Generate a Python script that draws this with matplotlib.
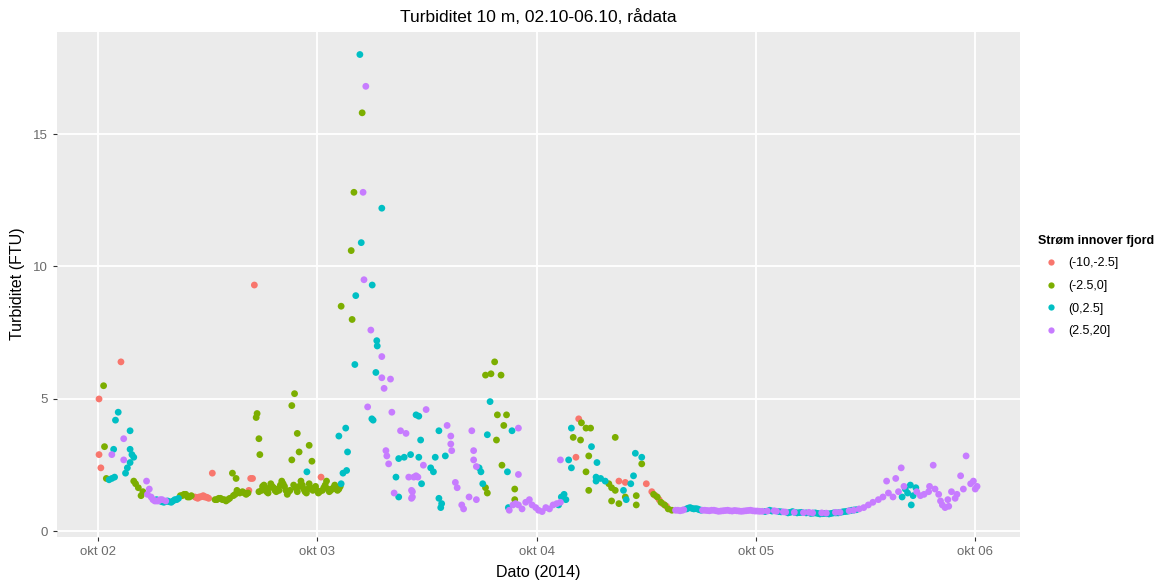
import numpy as np
import matplotlib
matplotlib.use("Agg")
import matplotlib.pyplot as plt
import matplotlib.dates as mdates
from matplotlib.lines import Line2D
from datetime import datetime

plt.rcParams['font.family'] = ['Liberation Sans', 'DejaVu Sans']

# hours after 2014-10-02 00:00 and turbidity (FTU), one pair of lists per current class
red_t = [0.1, 0.1, 0.3, 2.5, 10.6, 10.9, 11.2, 11.5, 11.8, 12.1, 12.5, 16.5, 16.7, 16.9,
         17.1, 24.4, 52.3, 52.6, 57.0, 57.7, 60.0, 60.6, 61.0, 61.4, 61.8, 62.2,
         10.75, 11.05, 11.35, 11.65, 11.95]
red_v = [5.0, 2.9, 2.4, 6.4, 1.3, 1.25, 1.3, 1.35, 1.3, 1.25, 2.2, 1.55, 2.0, 2.0,
         9.3, 2.05, 2.8, 4.25, 1.9, 1.85, 1.8, 1.5, 1.35, 1.2, 1.05, 0.95,
         1.28, 1.3, 1.32, 1.3, 1.28]

green_t = [0.6, 0.7, 0.9, 3.9, 4.1, 4.4, 4.7, 4.9,
           9.0, 9.4, 9.8, 10.2, 9.2, 9.6, 10.0,
           12.8, 13.2, 13.6, 14.0, 14.4, 14.7, 14.8, 15.1, 15.2, 15.5, 15.8, 16.2,
           13.0, 13.4, 13.8, 14.2, 15.0, 16.0, 16.4,
           17.3, 17.4, 17.6, 17.7, 17.6, 18.0, 18.3, 18.6, 18.9, 19.2, 19.5, 19.8, 20.1, 20.4,
           20.7, 21.0, 21.2, 21.2, 21.5, 21.8, 22.0, 21.4, 21.8, 22.2, 22.5, 22.8, 23.1, 23.1,
           23.4, 23.5, 23.8, 24.1, 24.7, 25.0, 25.3, 25.6, 25.9, 26.2, 26.5,
           17.9, 18.15, 18.45, 18.75, 19.05, 19.35, 19.65, 19.95, 20.25, 20.55, 20.85,
           21.6, 22.0, 22.35, 22.65, 22.95, 23.25, 23.65, 23.95, 24.25, 24.55, 24.85,
           25.15, 25.45, 25.75, 26.05, 26.35,
           26.6, 27.8, 27.7, 28.0, 28.9,
           42.4, 43.0, 43.4, 44.1, 43.7, 44.7, 44.4, 43.6, 44.2, 42.4, 42.6, 45.6, 45.6,
           52.0, 52.8, 52.9, 53.4, 53.9, 53.7, 53.4, 53.7, 56.6, 59.5, 55.9, 56.2, 56.2,
           57.0, 57.7, 58.9, 58.9, 56.6, 60.8, 61.2, 61.6, 62.0, 62.4, 62.8]
green_v = [5.5, 3.2, 2.0, 1.9, 1.8, 1.65, 1.35, 1.5,
           1.35, 1.4, 1.3, 1.35, 1.35, 1.4, 1.3,
           1.2, 1.25, 1.2, 1.15, 1.25, 2.2, 1.35, 2.0, 1.55, 1.45, 1.5, 1.4,
           1.2, 1.25, 1.2, 1.2, 1.4, 1.45, 1.45,
           4.3, 4.45, 3.5, 2.9, 1.5, 1.7, 1.6, 1.45, 1.8, 1.65, 1.5, 1.55, 1.9, 1.7,
           1.4, 1.55, 4.75, 2.7, 5.2, 3.7, 3.0, 1.75, 1.5, 1.9, 1.6, 1.45, 3.25, 1.8,
           2.65, 1.55, 1.7, 1.45, 1.65, 1.9, 1.5, 1.6, 1.75, 1.55, 1.7,
           1.55, 1.75, 1.5, 1.65, 1.7, 1.55, 1.6, 1.75, 1.8, 1.55, 1.5,
           1.65, 1.7, 1.75, 1.5, 1.6, 1.65, 1.6, 1.55, 1.5, 1.55, 1.75,
           1.6, 1.55, 1.65, 1.6, 1.6,
           8.5, 8.0, 10.6, 12.8, 15.8,
           5.9, 5.95, 6.4, 5.9, 4.4, 4.4, 4.0, 3.45, 2.5, 1.65, 1.45, 1.6, 1.2,
           3.55, 3.45, 4.1, 3.9, 3.9, 2.85, 2.25, 1.55, 3.55, 2.55, 1.8, 1.65, 1.15,
           1.05, 1.3, 1.0, 1.35, 1.55, 1.4, 1.3, 1.1, 1.0, 0.85, 0.8]

cyan_t = [1.2, 1.5, 1.8, 1.9, 2.2, 1.7, 3.5, 3.5, 3.9, 3.7, 3.5, 3.2, 3.0,
          6.4, 6.8, 7.2, 7.6, 8.0, 8.4, 8.8, 7.0, 7.4, 7.8, 8.2, 8.6,
          22.85, 26.35, 26.8, 27.1, 27.2, 27.3, 26.6,
          28.1, 28.2, 28.65, 28.8, 29.96, 30.1, 30.0, 30.4, 30.5, 30.55, 31.05,
          32.6, 32.9, 32.9, 33.5, 34.2, 34.8,
          35.1, 35.3, 37.3, 35.1, 36.9, 38.0, 36.4, 36.7, 35.4, 37.3, 37.6, 37.5,
          41.7, 41.9, 42.6, 42.9, 44.8, 45.3, 42.1, 44.9,
          50.4, 50.7, 51.0, 51.2, 51.5, 51.8, 51.8, 54.0, 54.5, 54.5, 55.0, 55.5,
          54.6, 58.6, 58.8, 59.5, 58.3, 57.5, 57.8,
          64.4, 64.8, 65.2, 65.6, 66.0, 64.6, 65.0, 65.4, 65.8,
          73.0, 73.5, 74.5, 75.5, 76.0, 76.5, 77.0, 77.5, 78.0, 78.5, 79.0, 79.5,
          80.0, 80.5, 81.0, 81.5, 82.0, 82.5, 83.0,
          73.75, 74.75, 75.75, 76.25, 76.75, 78.25, 78.75, 79.25, 79.75, 80.25,
          80.75, 81.25, 81.75, 82.25, 82.75,
          88.0, 88.35, 88.6, 88.9, 89.0, 89.2, 89.5]
cyan_v = [1.95, 2.0, 2.05, 4.2, 4.5, 3.1, 3.1, 3.8, 2.8, 2.9, 2.6, 2.4, 2.2,
          1.2, 1.15, 1.1, 1.15, 1.1, 1.2, 1.25, 1.12, 1.13, 1.12, 1.15, 1.2,
          2.25, 3.6, 2.2, 3.9, 2.3, 3.0, 1.8,
          6.3, 8.9, 18.0, 10.9, 4.25, 4.2, 9.3, 6.0, 7.2, 7.0, 12.2,
          2.05, 1.3, 2.75, 2.8, 2.9, 4.4,
          4.35, 3.45, 3.8, 2.8, 2.8, 2.85, 2.4, 2.25, 1.8, 1.25, 1.05, 0.9,
          2.4, 2.25, 3.65, 4.9, 2.25, 3.8, 1.8, 0.9,
          1.0, 1.3, 1.4, 1.2, 2.7, 2.4, 3.9, 3.2, 1.9, 2.05, 2.0, 1.9,
          2.6, 2.1, 2.95, 2.8, 1.8, 1.55, 1.2,
          0.85, 0.9, 0.85, 0.85, 0.8, 0.88, 0.87, 0.86, 0.82,
          0.75, 0.8, 0.75, 0.7, 0.75, 0.7, 0.72, 0.7, 0.68, 0.7, 0.66, 0.68,
          0.66, 0.7, 0.7, 0.74, 0.76, 0.8, 0.82,
          0.77, 0.74, 0.72, 0.72, 0.71, 0.69, 0.68, 0.67, 0.67, 0.68,
          0.7, 0.72, 0.75, 0.78, 0.81,
          1.3, 1.6, 1.45, 1.75, 1.0, 1.35, 1.65]

purple_t = [1.5, 2.8, 2.8, 5.3, 5.6, 5.4,
            5.8, 6.0, 6.2, 6.6, 7.0, 7.4, 6.4, 6.8,
            29.0, 29.1, 29.3, 29.5, 29.85, 31.05, 31.05, 31.3, 32.0, 32.15, 33.1, 33.7,
            31.5, 31.6, 31.8, 34.0, 34.55, 34.3, 32.4, 34.3,
            35.9, 38.2, 40.9, 38.6, 38.6, 38.7, 41.1, 41.1, 41.4, 34.8, 35.0, 34.4, 34.4,
            39.1, 39.3, 39.8, 40.0, 40.6, 41.4, 46.0, 46.0, 35.6,
            45.0, 45.4, 45.7, 46.0, 46.4, 46.8, 47.2, 47.5, 47.9, 48.2, 48.6, 49.0,
            49.4, 49.8, 50.2, 50.6, 50.6,
            63.2, 63.7, 64.1, 66.4, 66.9, 67.4, 67.9, 68.4, 68.9, 69.4, 69.9, 70.4,
            70.9, 71.4, 71.9, 72.4, 74.0, 75.0, 76.2, 77.8, 79.2, 80.7, 82.2, 83.3, 83.8,
            63.45, 63.95, 66.15, 66.65, 67.15, 67.65, 68.15, 68.65, 69.15, 69.65, 70.15,
            70.65, 71.15, 71.65, 72.15, 72.7, 73.25, 74.25, 75.25, 77.2, 78.2, 79.7,
            81.2, 82.7,
            84.3, 84.8, 85.4, 85.9, 86.3, 86.5, 87.0, 87.3, 87.6, 87.9, 88.2, 89.6,
            90.0, 90.4, 90.9, 91.0, 91.4, 91.6, 92.0, 92.2, 92.4, 92.7, 93.0, 93.1,
            93.4, 93.8, 94.0, 94.4, 94.7, 95.0, 95.5, 95.8, 96.0, 96.2]
purple_v = [2.9, 3.5, 2.7, 1.9, 1.6, 1.4,
            1.3, 1.2, 1.15, 1.15, 1.2, 1.15, 1.15, 1.2,
            12.8, 9.5, 16.8, 4.7, 7.6, 6.6, 5.8, 5.4, 5.75, 4.5, 3.8, 3.7,
            3.05, 2.85, 2.55, 2.05, 2.05, 1.55, 1.45, 1.25,
            4.6, 4.0, 3.8, 3.6, 3.3, 3.05, 3.05, 2.7, 2.45, 2.1, 2.05, 1.5, 1.3,
            1.85, 1.65, 1.0, 0.85, 1.3, 1.2, 3.9, 2.15, 2.5,
            0.8, 1.0, 1.05, 1.0, 0.85, 1.1, 1.2, 1.0, 0.9, 0.8, 0.75, 0.9,
            0.85, 1.0, 1.05, 1.1, 2.7,
            0.8, 0.78, 0.82, 0.8, 0.78, 0.8, 0.76, 0.78, 0.8, 0.77, 0.78, 0.76,
            0.78, 0.8, 0.77, 0.76, 0.78, 0.74, 0.72, 0.72, 0.7, 0.72, 0.78, 0.85, 0.9,
            0.8, 0.8, 0.8, 0.79, 0.8, 0.78, 0.77, 0.79, 0.78, 0.79, 0.77,
            0.77, 0.79, 0.78, 0.77, 0.76, 0.77, 0.76, 0.73, 0.71, 0.7, 0.69,
            0.72, 0.8,
            1.0, 1.1, 1.2, 1.3, 1.9, 1.45, 1.3, 2.0, 1.5, 2.4, 1.7, 1.5,
            1.35, 1.4, 1.5, 1.7, 2.5, 1.6, 1.4, 1.15, 1.0, 0.9, 1.2, 0.95,
            1.5, 1.25, 1.4, 2.1, 1.6, 2.85, 1.8, 1.9, 1.6, 1.7]

classes = ['(-10,-2.5]', '(-2.5,0]', '(0,2.5]', '(2.5,20]']
colors = ['#F8766D', '#7CAE00', '#00BFC4', '#C77CFF']
tick_days = [datetime(2014, 10, d) for d in range(2, 7)]
tick_labels = ['okt 02', 'okt 03', 'okt 04', 'okt 05', 'okt 06']

t0 = mdates.date2num(datetime(2014, 10, 2))
series = [(red_t, red_v), (green_t, green_v), (cyan_t, cyan_v), (purple_t, purple_v)]

fig = plt.figure(figsize=(11.76, 5.86), dpi=100)
ax = fig.add_axes([57/1176, 1-537/586, 963/1176, 505/586])
ax.set_facecolor('#EBEBEB')
for s in ax.spines.values():
    s.set_visible(False)

for (t, v), c in zip(series, colors):
    x = t0 + np.array(t) / 24.0
    ax.scatter(x, v, s=24, color=c, edgecolors='none', zorder=3)

ax.set_xticks(mdates.date2num(tick_days))
ax.set_xticklabels(tick_labels)
ax.set_xlim(t0 - 4.5/24, t0 + 100.9/24)
ax.set_yticks([0, 5, 10, 15])
ax.set_ylim(-0.21, 18.85)
ax.grid(True, color='white', linewidth=1.3)
ax.set_axisbelow(True)
ax.tick_params(colors='#333333', labelcolor='#6b6b6b', length=3, width=0.8, labelsize=9.5)

fig.text((57+1020)/2/1176, 1-17/586, 'Turbiditet 10 m, 02.10-06.10, rådata',
         ha='center', va='center', fontsize=12.5)
fig.text(18/1176, 1-284/586, 'Turbiditet (FTU)', rotation=90, ha='center', va='center', fontsize=11.5)
fig.text(538/1176, 1-573/586, 'Dato (2014)', ha='center', va='center', fontsize=11.5)

handles = [Line2D([], [], marker='o', linestyle='', markersize=4.5, color=c,
                  markeredgewidth=0) for c in colors]
leg = fig.legend(handles, classes, title='Strøm innover fjord', loc='center left',
                 bbox_to_anchor=(1027/1176, 1-286/586), frameon=False, fontsize=9,
                 handletextpad=0.4, labelspacing=0.85, alignment='left')
leg.get_title().set_fontweight('bold')
leg.get_title().set_fontsize(9)

fig.savefig('out.png', dpi=100)
